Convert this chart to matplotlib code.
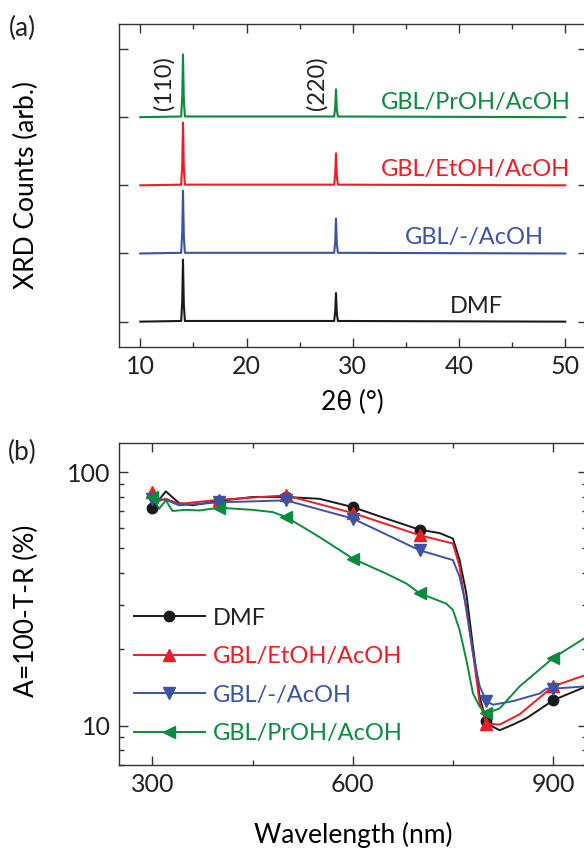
import matplotlib
matplotlib.use("Agg")
import matplotlib.pyplot as plt
from matplotlib.ticker import MultipleLocator, LogLocator, NullFormatter, FixedLocator

plt.rcParams['font.family'] = ['Lato', 'DejaVu Sans']

# ---- (a) XRD patterns (normalized counts, stacked) ----
two_theta = [10, 13.85, 13.95, 14.02, 14.1, 14.2, 28.25, 28.35, 28.42, 28.5, 28.6, 50]
xrd_dmf = [0, 0.01, 0.30, 0.91, 0.25, 0.01, 0.01, 0.15, 0.42, 0.12, 0.01, 0]
xrd_gbl = [0, 0.01, 0.30, 0.92, 0.25, 0.01, 0.01, 0.18, 0.51, 0.14, 0.01, 0]
xrd_etoh = [0, 0.01, 0.30, 0.92, 0.25, 0.01, 0.01, 0.17, 0.47, 0.13, 0.01, 0]
xrd_proh = [0, 0.01, 0.30, 0.92, 0.25, 0.01, 0.01, 0.15, 0.41, 0.11, 0.01, 0]
xrd_offsets = [0, 1, 2, 3]

# ---- (b) absorptance A = 100 - T - R (%) ----
wl_dmf = [300, 320, 340, 360, 400, 450, 500, 550, 600, 650, 700, 730, 750, 760, 770,
          780, 790, 800, 810, 820, 840, 860, 880, 900, 950]
a_dmf = [72.1, 84, 75.5, 74, 77, 79.8, 79.8, 78.5, 72.8, 65.6, 59.3, 57.5, 54.7, 45, 33.3,
         20.5, 13.0, 10.4, 9.9, 9.6, 10.1, 10.7, 11.6, 12.6, 14.3]
wl_etoh = [300, 310, 320, 340, 400, 500, 600, 700, 750, 760, 780, 790, 800, 820, 850, 900, 950]
a_etoh = [83.4, 77, 78.5, 75, 77.8, 81, 69, 56.4, 52.3, 42.3, 19.3, 12.3, 10.2, 10.1, 11.1, 14.3, 15.9]
wl_gbl = [300, 320, 340, 400, 500, 600, 700, 750, 760, 770, 780, 790, 800, 810, 840, 880, 890, 900, 950]
a_gbl = [78.6, 77.8, 74, 76, 77.4, 65.6, 49.2, 45, 38.7, 29.5, 19.3, 14.3, 12.5, 12.1, 12.5, 13.4, 14.0, 14.0, 14.3]
wl_proh = [300, 310, 320, 330, 350, 370, 400, 450, 480, 500, 550, 600, 650, 680, 700, 740, 750,
           760, 770, 780, 790, 800, 820, 850, 900, 950]
a_proh = [79.7, 71.7, 77.4, 70.3, 71, 70.6, 72.4, 71, 69.6, 66.6, 55.5, 45.6, 39.8, 36.4, 33.3, 30.3, 28.6,
          23.8, 18.2, 13.4, 11.9, 11.2, 11.7, 14.3, 18.5, 22.4]
marker_wl = [300, 400, 500, 600, 700, 800, 900]

labels = ['DMF', 'GBL/-/AcOH', 'GBL/EtOH/AcOH', 'GBL/PrOH/AcOH']
c_black, c_blue, c_red, c_green = '#1a1a1a', '#3a53a4', '#ee1c25', '#0c8a3e'

fig = plt.figure(figsize=(5.84, 8.48), dpi=100)
ax1 = fig.add_axes([0.2038, 0.5912, 0.8005, 0.3805])
ax2 = fig.add_axes([0.2038, 0.0979, 0.8005, 0.3794])

for ax in (ax1, ax2):
    for s in ax.spines.values():
        s.set_color('#333333')
        s.set_linewidth(1.0)
    ax.tick_params(which='both', direction='in', top=True, right=True, colors='#333333',
                   labelcolor='#222222', labelsize=18, pad=6)
    ax.tick_params(which='major', length=6.5, width=1.0)
    ax.tick_params(which='minor', length=3.3, width=1.0)

# panel (a)
for y, off, col in zip([xrd_dmf, xrd_gbl, xrd_etoh, xrd_proh], xrd_offsets,
                       [c_black, c_blue, c_red, c_green]):
    ax1.plot(two_theta, [v + off for v in y], color=col, lw=1.5)
ax1.set_xlim(8, 52)
ax1.set_ylim(-0.367, 4.367)
ax1.xaxis.set_major_locator(MultipleLocator(10))
ax1.xaxis.set_minor_locator(MultipleLocator(5))
ax1.yaxis.set_major_locator(FixedLocator([0, 1, 2, 3, 4]))
ax1.set_yticklabels([])
ax1.set_xlabel('2θ (°)', fontsize=19, va='center')
ax1.set_ylabel('XRD Counts (arb.)', fontsize=19, va='center')
ax1.xaxis.set_label_coords(0.5, -0.1745)
ax1.yaxis.set_label_coords(-0.199, 0.5)
ax1.text(12.2, 3.5, '(110)', rotation=90, ha='center', va='center', fontsize=17, color='#222222')
ax1.text(26.57, 3.5, '(220)', rotation=90, ha='center', va='center', fontsize=17, color='#222222')
ax1.text(50.47, 3.22, labels[3], ha='right', va='center', fontsize=17, color=c_green)
ax1.text(50.47, 2.23, labels[2], ha='right', va='center', fontsize=17, color=c_red)
ax1.text(48.0, 1.23, labels[1], ha='right', va='center', fontsize=17, color=c_blue)
ax1.text(44.1, 0.22, labels[0], ha='right', va='center', fontsize=17, color='#222222')

# panel (b)
def mk(wl):
    return [i for i, w in enumerate(wl) if w in marker_wl]

ax2.plot(wl_dmf, a_dmf, color=c_black, lw=1.4, marker='o', ms=7.5, markevery=mk(wl_dmf), label='DMF')
ax2.plot(wl_etoh, a_etoh, color=c_red, lw=1.4, marker='^', ms=8, markevery=mk(wl_etoh), label='GBL/EtOH/AcOH')
ax2.plot(wl_gbl, a_gbl, color=c_blue, lw=1.4, marker='v', ms=8, markevery=mk(wl_gbl), label='GBL/-/AcOH')
ax2.plot(wl_proh, a_proh, color=c_green, lw=1.4, marker='<', ms=8, markevery=mk(wl_proh), label='GBL/PrOH/AcOH')
ax2.set_yscale('log')
ax2.set_xlim(250, 950)
ax2.set_ylim(7, 130)
ax2.xaxis.set_major_locator(MultipleLocator(300))
ax2.xaxis.set_minor_locator(MultipleLocator(150))
ax2.yaxis.set_minor_locator(LogLocator(base=10, subs=range(2, 10), numticks=20))
ax2.yaxis.set_minor_formatter(NullFormatter())
ax2.set_yticks([10, 100])
ax2.set_yticklabels(['10', '100'])
ax2.set_xlabel('Wavelength (nm)', fontsize=19, va='center')
ax2.set_ylabel('A=100-T-R (%)', fontsize=19, va='center')
ax2.xaxis.set_label_coords(0.5, -0.2176)
ax2.yaxis.set_label_coords(-0.199, 0.48)

leg = ax2.legend(loc='lower left', bbox_to_anchor=(0.032, 0.065), frameon=False, fontsize=17,
                 handlelength=3.0, handletextpad=0.35, labelspacing=0.74, borderpad=0, borderaxespad=0)
for txt, col in zip(leg.get_texts(), ['#222222', c_red, c_blue, c_green]):
    txt.set_color(col)

fig.text(0.038, 0.967, '(a)', fontsize=19, ha='center', va='center', color='#222222')
fig.text(0.038, 0.466, '(b)', fontsize=19, ha='center', va='center', color='#222222')

fig.savefig('out.png', dpi=100)
